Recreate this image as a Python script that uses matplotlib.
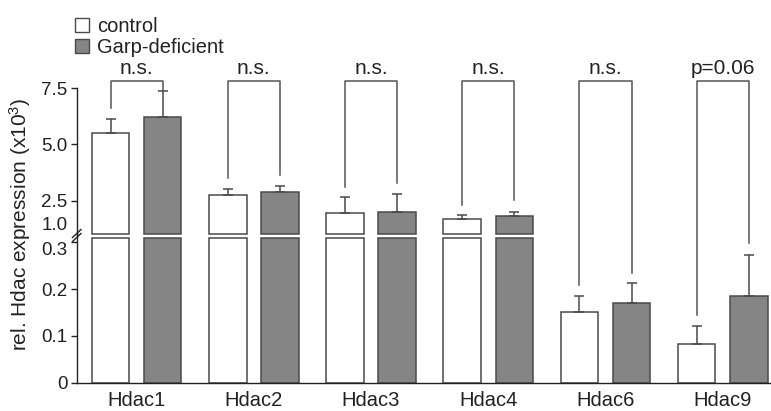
import numpy as np
import matplotlib
matplotlib.use("Agg")
import matplotlib.pyplot as plt
from matplotlib.patches import Patch
from matplotlib.lines import Line2D

plt.rcParams["font.family"] = ["Liberation Sans", "DejaVu Sans"]
plt.rcParams["mathtext.default"] = "regular"

# expression values (x10^3), mean and upper SD
genes = ["Hdac1", "Hdac2", "Hdac3", "Hdac4", "Hdac6", "Hdac9"]
ctrl = [5.52, 2.75, 1.95, 1.69, 0.150, 0.082]
ctrl_err = [0.61, 0.27, 0.70, 0.16, 0.036, 0.038]
garp = [6.21, 2.90, 2.01, 1.81, 0.171, 0.184]
garp_err = [1.17, 0.26, 0.78, 0.20, 0.041, 0.089]

# significance brackets: where each leg stops, and the label
brk_left = [6.61, 3.49, 3.09, 2.30, 0.209, 0.144]
brk_right = [7.38, 3.64, 3.27, 2.53, 0.234, 0.298]
sig = ["n.s.", "n.s.", "n.s.", "n.s.", "n.s.", "p=0.06"]

edge = "#4a4a4a"
grey = "#858585"
W, H = 771, 411

fig = plt.figure(figsize=(W / 100, H / 100), dpi=100)
ax_lo = fig.add_axes([0.0999, 0.0693, 0.8991, 0.3640])
ax_hi = fig.add_axes([0.0999, 0.4273, 0.8991, 0.3579])

x = np.arange(len(genes))
off = 0.222
bw = 0.32
cut_lo = 0.31   # top of the lower piece
cut_hi = 1.0    # bottom of the upper piece
tick_fs = 13.5

for ax in (ax_lo, ax_hi):
    ax.set_facecolor("none")
    ax.set_xlim(-0.508, 5.405)
    for s in ("top", "right"):
        ax.spines[s].set_visible(False)
    ax.spines["left"].set_linewidth(1.0)
    ax.spines["left"].set_color("#222222")
    ax.tick_params(axis="y", length=4, width=1.0, color="#222222",
                   labelsize=tick_fs, pad=3, labelcolor="#222222")

# lower panel
ctrl_a = np.array(ctrl)
garp_a = np.array(garp)
ax_lo.bar(x - off, np.minimum(ctrl_a, cut_lo), bw, color="white", edgecolor=edge, linewidth=1.1)
ax_lo.bar(x + off, np.minimum(garp_a, cut_lo), bw, color=grey, edgecolor=edge, linewidth=1.1)
ax_lo.errorbar(x - off, ctrl_a, yerr=[np.zeros(6), ctrl_err], fmt="none",
               ecolor=edge, elinewidth=1.1, capsize=3.5, capthick=1.1)
ax_lo.errorbar(x + off, garp_a, yerr=[np.zeros(6), garp_err], fmt="none",
               ecolor=edge, elinewidth=1.1, capsize=3.5, capthick=1.1)
ax_lo.set_ylim(0, 0.32)
ax_lo.set_yticks([0, 0.1, 0.2, 0.3])
ax_lo.set_yticklabels(["0", "0.1", "0.2", "0.3"])
ax_lo.get_yticklabels()[-1].set_va("top")
ax_lo.set_xticks(x)
ax_lo.set_xticklabels(genes)
ax_lo.tick_params(axis="x", length=0, labelsize=14.5, pad=6, labelcolor="#222222")
ax_lo.spines["bottom"].set_linewidth(1.0)
ax_lo.spines["bottom"].set_color("#222222")

# upper panel
hi = ctrl_a > cut_hi
ax_hi.bar(x[hi] - off, ctrl_a[hi] - cut_hi, bw, bottom=cut_hi, color="white", edgecolor=edge, linewidth=1.1)
hi = garp_a > cut_hi
ax_hi.bar(x[hi] + off, garp_a[hi] - cut_hi, bw, bottom=cut_hi, color=grey, edgecolor=edge, linewidth=1.1)
ax_hi.errorbar(x - off, ctrl_a, yerr=[np.zeros(6), ctrl_err], fmt="none",
               ecolor=edge, elinewidth=1.1, capsize=3.5, capthick=1.1)
ax_hi.errorbar(x + off, garp_a, yerr=[np.zeros(6), garp_err], fmt="none",
               ecolor=edge, elinewidth=1.1, capsize=3.5, capthick=1.1)
ax_hi.set_ylim(0.95, 7.5)
ax_hi.set_yticks([2.5, 5.0, 7.5])
ax_hi.set_yticklabels(["2.5", "5.0", "7.5"])
ax_hi.annotate("1.0", (0, 1.0), xycoords=ax_hi.get_yaxis_transform(),
               xytext=(-7, 0), textcoords="offset points", ha="right", va="bottom",
               fontsize=tick_fs, color="#222222", annotation_clip=False)
ax_hi.spines["bottom"].set_visible(False)
ax_hi.set_xticks([])

# axis break marks
to_fig = fig.transFigure.inverted()


def px(xp, yp):
    return xp / W, 1 - yp / H


for yc in (237.5, 233.5):
    (x0, y0), (x1, y1) = px(72.5, yc + 4), px(81, yc - 4)
    fig.add_artist(Line2D([x0, x1], [y0, y1], color="#222222", lw=1.0))


def fig_xy(ax, xd, yd):
    return to_fig.transform(ax.transData.transform((xd, yd)))


# brackets, legs reach down into whichever panel the value sits in
top = 7.84
for i in range(len(genes)):
    xl, xr = x[i] - off, x[i] + off
    ax_l = ax_hi if brk_left[i] >= cut_hi else ax_lo
    ax_r = ax_hi if brk_right[i] >= cut_hi else ax_lo
    p0 = fig_xy(ax_l, xl, brk_left[i])
    p1 = fig_xy(ax_hi, xl, top)
    p2 = fig_xy(ax_hi, xr, top)
    p3 = fig_xy(ax_r, xr, brk_right[i])
    fig.add_artist(Line2D([p0[0], p1[0], p2[0], p3[0]], [p0[1], p1[1], p2[1], p3[1]],
                          color="#555555", lw=1.1))
    ax_hi.annotate(sig[i], (x[i], top), xytext=(0, 4.5), textcoords="offset points",
                   ha="center", va="baseline", fontsize=15, color="#222222",
                   annotation_clip=False)

fig.text(20 / W, 1 - 224 / H, "rel. Hdac expression (x10$^3$)", rotation=90,
         ha="center", va="center", fontsize=15, color="#222222")

handles = [Patch(facecolor="white", edgecolor=edge, linewidth=1.0),
           Patch(facecolor=grey, edgecolor=edge, linewidth=1.0)]
fig.legend(handles, ["control", "Garp-deficient"], loc="upper left",
           bbox_to_anchor=px(75, 17), frameon=False, fontsize=14.5,
           handlelength=0.7, handleheight=0.7, handletextpad=0.4,
           borderaxespad=0, borderpad=0, labelspacing=0.12, labelcolor="#222222")

fig.savefig("out.png", dpi=100)
